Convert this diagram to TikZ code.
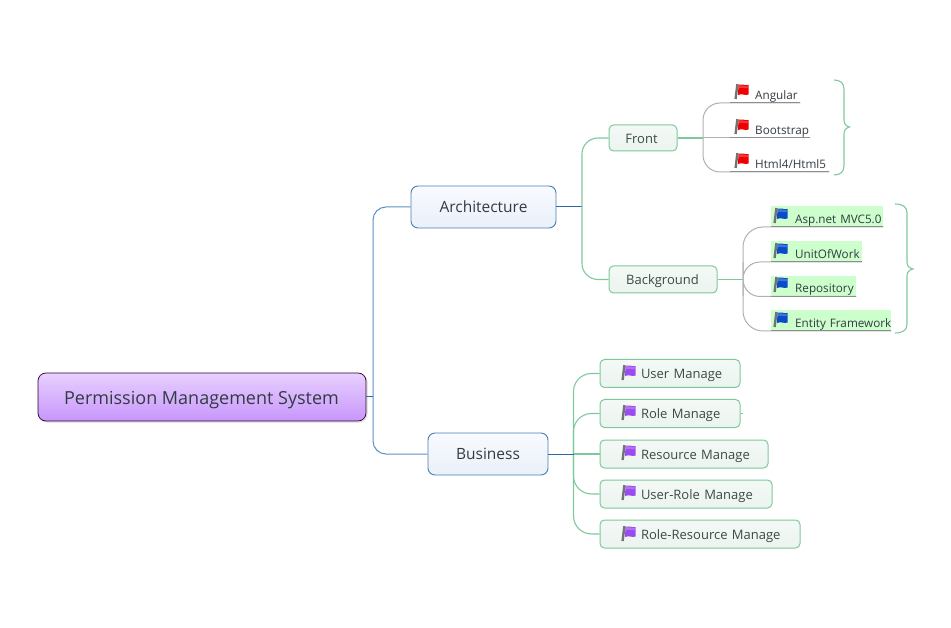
\documentclass[tikz,border=0pt]{standalone}
\usepackage{fontspec}
\setmainfont{Open Sans}
\definecolor{txt}{HTML}{333B42}
\definecolor{txtg}{HTML}{3B4A44}
\definecolor{bluel}{HTML}{5C8FC8}
\definecolor{blued}{HTML}{2B67A6}
\definecolor{greenl}{HTML}{7FC89C}
\definecolor{grayl}{HTML}{B0B0B0}
\definecolor{grayd}{HTML}{8E8E8E}
\definecolor{hl}{HTML}{CCFFCC}
\definecolor{rootA}{HTML}{E8D0FF}
\definecolor{rootB}{HTML}{C99AFC}
\definecolor{rootC}{HTML}{C796FB}
\definecolor{mainA}{HTML}{F8FAFE}
\definecolor{mainB}{HTML}{EAF0F9}
\definecolor{subA}{HTML}{F4F9F6}
\definecolor{subB}{HTML}{EBF4EF}
\definecolor{flagR}{HTML}{EE0000}
\definecolor{flagB}{HTML}{0A4CC8}
\definecolor{flagP}{HTML}{9A4CF0}
\tikzset{
  x=1pt,y=-1pt,
  rootbox/.style={draw=black!65!violet,line width=0.7pt,rounded corners=8pt,top color=rootA,middle color=rootB,bottom color=rootC,text=txt,font=\fontsize{18}{21}\selectfont,inner sep=0pt,text height=19pt,text depth=4.4pt},
  mainbox/.style={draw=blued!85,line width=0.9pt,rounded corners=7pt,top color=mainA,bottom color=mainB,text=txt,font=\fontsize{15.5}{18}\selectfont,inner sep=0pt,text height=15pt,text depth=4pt},
  subbox/.style={draw=greenl,line width=1pt,rounded corners=4.5pt,top color=subA,bottom color=subB,text=txtg,font=\fontsize{13}{16}\selectfont,inner sep=0pt,text height=14pt,text depth=3.5pt},
  flagbox/.style={subbox,align=left},
  topic/.style={anchor=south west,inner sep=0pt,text height=17pt,text depth=3.5pt,align=left,text=txt,font=\fontsize{11.7}{14}\selectfont},
  hltopic/.style={topic,fill=hl},
  blueline/.style={draw=bluel,line width=1pt},
  bluedark/.style={draw=blued,line width=1pt},
  greenline/.style={draw=greenl,line width=1.1pt},
  grayline/.style={draw=grayl,line width=1pt},
  underline/.style={draw=grayd,line width=1pt},
}
\newcommand{\flagat}[3]{%
  \begin{scope}[shift={(#1,#2)}]
    \fill[#3] (4.5,0.5) .. controls (8,-1) and (10,2) .. (14.5,1) -- (14.5,10.5) .. controls (11,12) and (8,9) .. (4,11) -- cycle;
    \fill[white,opacity=.22] (5,1.2) .. controls (8,0) and (10,2.8) .. (14,2) -- (14,4) .. controls (10,5) and (8,2.5) .. (4.8,3.8) -- cycle;
    \draw[black!55,line width=2.4pt] (3.4,0.2) -- (1.6,15);
  \end{scope}}
\newcommand{\bracedraw}[6]{%
  \draw[greenline] (#1,#3) .. controls (#2-4,#3) and (#2,#3+3) .. (#2,#3+9)
    -- (#2,#4-7) .. controls (#2,#4-3) and (#2+2,#4-1) .. (#5,#4)
    .. controls (#2+2,#4+1) and (#2,#4+3) .. (#2,#4+7)
    -- (#2,#6-9) .. controls (#2,#6-3) and (#2-4,#6) .. (#1,#6);}
\begin{document}
\begin{tikzpicture}
\useasboundingbox (0,0) rectangle (951,628);
% trunks
\coordinate (rt) at (373,397);
\coordinate (at) at (582,207);
\coordinate (ft) at (703,138);
\coordinate (bt) at (743,279.5);
\coordinate (st) at (573.5,454);
% boxes
\draw[black!15,line width=1pt,rounded corners=8pt] (39,374) rectangle (367,422);
\node[rootbox,minimum width=328pt,minimum height=48pt] (root) at (202,397) {\hspace*{-1pt}Permission Management System};
\node[mainbox,minimum width=145pt,minimum height=42pt] (arch) at (483.5,207) {Architecture};
\node[mainbox,minimum width=120pt,minimum height=42pt] (biz) at (488,454) {Business};
\node[subbox,minimum width=68pt,minimum height=26pt] (front) at (643,138) {\hspace*{-3pt}Front};
\node[subbox,minimum width=108pt,minimum height=27pt] (back) at (663,279.5) {\hspace*{-1pt}Background};
\node[flagbox,text width=140pt,minimum height=28pt] (um) at (670,373.5) {\hspace*{41pt}\mbox{User Manage}};
\node[flagbox,text width=140pt,minimum height=28pt] (rm) at (670,413.5) {\hspace*{41pt}\mbox{Role Manage}};
\node[flagbox,text width=168pt,minimum height=28pt] (sm) at (684,454) {\hspace*{41pt}\mbox{Resource Manage}};
\node[flagbox,text width=172pt,minimum height=28pt] (urm) at (686,494) {\hspace*{41pt}\mbox{User-Role Manage}};
\node[flagbox,text width=200pt,minimum height=28pt] (rrm) at (700,534) {\hspace*{41pt}\mbox{Role-Resource Manage}};
% topics
\node[topic,text width=70pt] (ta) at (730,103) {\hspace*{25pt}\mbox{Angular}};
\node[topic,text width=80pt] (tb) at (730,138) {\hspace*{25pt}\mbox{Bootstrap}};
\node[topic,text width=99pt] (th) at (730,172) {\hspace*{25pt}\mbox{Html4/Html5}};
\node[hltopic,text width=112pt] (tm) at (771,227) {\hspace*{24pt}\mbox{Asp.net MVC5.0}};
\node[hltopic,text width=91pt] (tu) at (771,262) {\hspace*{24pt}\mbox{UnitOfWork}};
\node[hltopic,text width=85pt] (tr) at (771,296.5) {\hspace*{24pt}\mbox{Repository}};
\node[hltopic,text width=120pt] (te) at (771,331) {\hspace*{24pt}\mbox{Entity Framework}};
% connectors
\draw[blueline,rounded corners=13pt] (arch.west) -| (rt) |- (biz.west);
\draw[bluedark] (root.east |- rt) -- (rt);
\draw[bluedark] (arch.east) -- (at);
\draw[greenline,rounded corners=16pt] (front.west) -| (at) |- (back.west);
\draw[greenline] (front.east) -- (ft);
\draw[grayline,rounded corners=17pt] (ta.south east) -| (ft) |- (th.south east);
\draw[grayline] (ft) -- (tb.south east);
\draw[underline] (ta.south west) -- (ta.south east);
\draw[underline] (tb.south west) -- (tb.south east);
\draw[underline] (th.south west) -- (th.south east);
\draw[greenline] (back.east) -- (bt);
\draw[grayline,rounded corners=20pt] (tm.south east) -| (bt) |- (te.south east);
\draw[grayline,rounded corners=17pt] (tu.south east) -| (bt) |- (tr.south east);
\draw[underline] (tm.south west) -- (tm.south east);
\draw[underline] (tu.south west) -- (tu.south east);
\draw[underline] (tr.south west) -- (tr.south east);
\draw[underline] (te.south west) -- (te.south east);
\draw[greenline,rounded corners=18pt] (um.west) -| (st) |- (rrm.west);
\draw[greenline,rounded corners=18pt] (rm.west) -| (st) |- (urm.west);
\draw[greenline] (st) -- (sm.west);
\draw[bluedark] (biz.east) -- (st);
\draw[greenline] (rm.east) -- ++(2,0);
% braces
\bracedraw{834}{844}{80}{127}{849.5}{175}
\bracedraw{895}{907}{204}{269}{913}{333}
% flags
\flagat{734}{84}{flagR}
\flagat{734}{119}{flagR}
\flagat{734}{153}{flagR}
\flagat{773}{208}{flagB}
\flagat{773}{243}{flagB}
\flagat{773}{277}{flagB}
\flagat{773}{312}{flagB}
\flagat{621}{365}{flagP}
\flagat{621}{405}{flagP}
\flagat{621}{445}{flagP}
\flagat{621}{485}{flagP}
\flagat{621}{526}{flagP}
\end{tikzpicture}
\end{document}
